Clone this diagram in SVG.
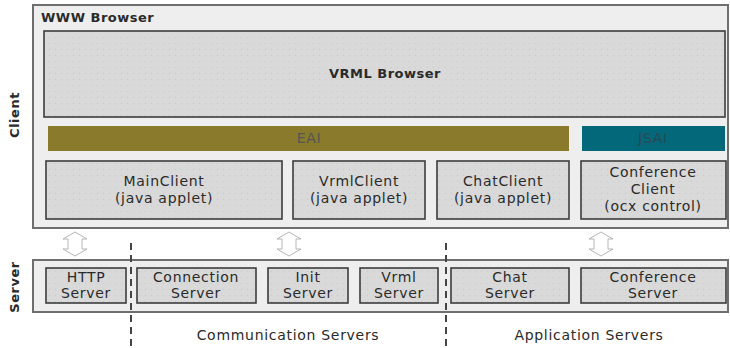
<svg xmlns="http://www.w3.org/2000/svg" width="730" height="348" viewBox="0 0 730 348">
<defs>
<pattern id="dots" width="6" height="6" patternUnits="userSpaceOnUse">
<rect width="6" height="6" fill="#d9d9d9"/>
<circle cx="1.5" cy="1.5" r="0.6" fill="#c8c8c8"/>
</pattern>
<g id="dbl">
<path d="M0,-12 L12,-5 L7,-5 L7,5 L12,5 L0,12 L-12,5 L-7,5 L-7,-5 L-12,-5 Z" fill="#ffffff" stroke="#b5b5b5" stroke-width="1" stroke-linejoin="round"/>
</g>
</defs>
<style>
.outer{fill:#eeeeee;stroke:#6e6e6e;stroke-width:2}
.box{fill:url(#dots);stroke:#3c3c3c;stroke-width:1.6}
.t{font-family:"DejaVu Sans",Verdana,sans-serif;font-size:14px;letter-spacing:0.7px;fill:#2a2a2a;text-anchor:middle}
.tb{font-family:"DejaVu Sans",Verdana,sans-serif;font-size:13px;letter-spacing:0.5px;font-weight:bold;fill:#2a2a2a}
.dash{stroke:#444;stroke-width:2;stroke-dasharray:7,5;fill:none}
</style>
<rect width="730" height="348" fill="#ffffff"/>
<g id="client-label"><text class="tb" transform="translate(19,115) rotate(-90)" text-anchor="middle">Client</text></g>
<g id="server-label"><text class="tb" transform="translate(19,287) rotate(-90)" text-anchor="middle">Server</text></g>
<g id="www-browser">
<rect class="outer" x="33" y="5" width="695" height="223"/>
<text class="tb" x="41" y="22">WWW Browser</text>
</g>
<g id="vrml-browser">
<rect class="box" x="44" y="31" width="681" height="86"/>
<text class="tb" x="385" y="78" text-anchor="middle">VRML Browser</text>
</g>
<g id="eai">
<rect x="48" y="126" width="521" height="25" fill="#8a7a2c"/>
<text class="t" x="309" y="143" style="fill:#555">EAI</text>
</g>
<g id="jsai">
<rect x="582" y="126" width="143" height="25" fill="#03687a"/>
<text class="t" x="653" y="143" style="fill:#2a4a52">JSAI</text>
</g>
<g id="mainclient">
<rect class="box" x="46" y="161" width="236" height="58"/>
<text class="t" x="164" y="186">MainClient</text>
<text class="t" x="164" y="203">(java applet)</text>
</g>
<g id="vrmlclient">
<rect class="box" x="293" y="161" width="132" height="58"/>
<text class="t" x="359" y="186">VrmlClient</text>
<text class="t" x="359" y="203">(java applet)</text>
</g>
<g id="chatclient">
<rect class="box" x="437" y="161" width="132" height="58"/>
<text class="t" x="503" y="186">ChatClient</text>
<text class="t" x="503" y="203">(java applet)</text>
</g>
<g id="conferenceclient">
<rect class="box" x="581" y="161" width="145" height="58"/>
<text class="t" x="653" y="177">Conference</text>
<text class="t" x="653" y="194">Client</text>
<text class="t" x="653" y="211">(ocx control)</text>
</g>
<g id="server-band">
<rect class="outer" x="33" y="260" width="695" height="52"/>
</g>
<g id="http-server">
<rect class="box" x="46" y="268" width="80" height="35"/>
<text class="t" x="86" y="282">HTTP</text>
<text class="t" x="86" y="298">Server</text>
</g>
<g id="connection-server">
<rect class="box" x="137" y="268" width="119" height="35"/>
<text class="t" x="196" y="282">Connection</text>
<text class="t" x="196" y="298">Server</text>
</g>
<g id="init-server">
<rect class="box" x="268" y="268" width="80" height="35"/>
<text class="t" x="308" y="282">Init</text>
<text class="t" x="308" y="298">Server</text>
</g>
<g id="vrml-server">
<rect class="box" x="360" y="268" width="78" height="35"/>
<text class="t" x="399" y="282">Vrml</text>
<text class="t" x="399" y="298">Server</text>
</g>
<g id="chat-server">
<rect class="box" x="451" y="268" width="118" height="35"/>
<text class="t" x="510" y="282">Chat</text>
<text class="t" x="510" y="298">Server</text>
</g>
<g id="conference-server">
<rect class="box" x="581" y="268" width="145" height="35"/>
<text class="t" x="653" y="282">Conference</text>
<text class="t" x="653" y="298">Server</text>
</g>
<g id="connectors">
<use href="#dbl" x="75" y="244"/>
<use href="#dbl" x="289" y="244"/>
<use href="#dbl" x="601" y="244"/>
<line class="dash" x1="131" y1="243" x2="131" y2="348"/>
<line class="dash" x1="446" y1="243" x2="446" y2="348"/>
</g>
<g id="group-labels">
<text class="t" x="288" y="340">Communication Servers</text>
<text class="t" x="589" y="340">Application Servers</text>
</g>
</svg>
